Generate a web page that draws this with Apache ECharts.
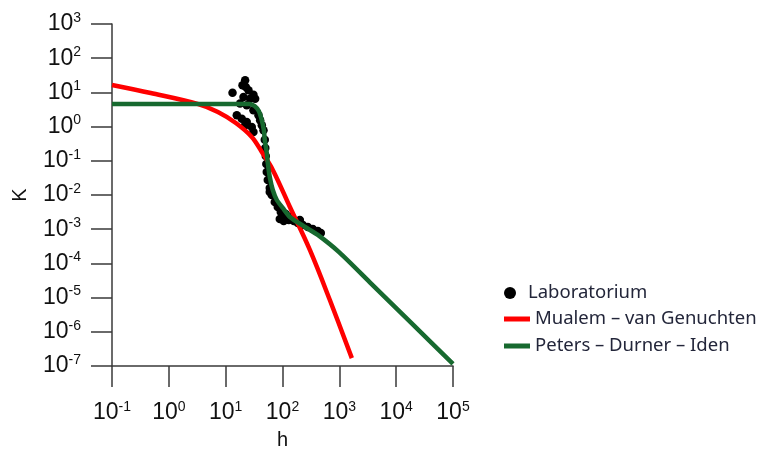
<!DOCTYPE html>
<html>
<head>
<meta charset="utf-8">
<script src="https://cdn.jsdelivr.net/npm/echarts@6/dist/echarts.min.js"></script>
<style>
  html, body { margin: 0; padding: 0; background: #fff; }
  #chart { width: 770px; height: 449px; }
</style>
</head>
<body>
<div id="chart"></div>
<script>
// Laboratorium — meetpunten [h, K]
const labPoints = [
  [22.0, 22.6], [19.8, 16.1], [22.6, 14.4], [13.2, 9.8], [25.2, 11.5], [30.8, 8.6],
  [20.6, 7.3], [26.9, 6.5], [33.0, 6.5], [17.9, 4.7], [23.5, 4.2], [30.8, 3.0],
  [15.7, 2.14], [19.2, 1.70], [23.5, 1.36], [22.0, 1.09], [28.8, 0.97], [30.8, 0.70],
  [37.8, 2.14], [40.4, 1.53], [43.3, 1.09], [46.3, 0.78],
  [48.8, 0.41], [49.8, 0.237], [50.8, 0.138], [51.9, 0.0805], [52.9, 0.047], [55.1, 0.0275],
  [59.7, 0.016], [59.7, 0.01225], [64.8, 0.010], [73.1, 0.00624], [82.6, 0.00446], [93.3, 0.00318],
  [89.6, 0.00199], [105, 0.00174], [114, 0.00278], [129, 0.00186], [146, 0.00228],
  [158, 0.00174], [186, 0.00152], [202, 0.00186], [228, 0.00133], [279, 0.00116],
  [341, 0.00101], [418, 0.00089], [472, 0.00077]
];

// Mualem – van Genuchten
const mvgCurve = [
  [0.1, 16.5], [0.48, 9.6], [3.2, 4.6], [7.3, 2.67], [15.1, 1.27], [28.8, 0.497],
  [43.3, 0.181], [67.5, 0.054], [135, 0.00446], [303, 2.47e-4], [681, 8.5e-6], [1660, 1.7e-7]
];

// Peters – Durner – Iden
const pdiCurve = [
  [0.1, 4.6], [26.5, 4.6], [32.3, 4.0], [38.3, 2.86], [43.1, 1.56], [46.9, 0.80],
  [48.8, 0.405], [52.9, 0.169], [55.1, 0.086], [59.7, 0.0336], [67.5, 0.014], [79.5, 0.00714],
  [101, 0.00417], [135, 0.00228], [250, 1.16e-3], [418, 6.8e-4], [1000, 2.1e-4],
  [3444, 2.8e-5], [20000, 1.59e-6], [1e5, 1.15e-7]
];

const xRange = [0.1, 1e5];
const yRange = [1e-7, 1e3];

const FONT = '"Liberation Sans", Arial, sans-serif';

const powLabel = (v) => '{b|10}{s|' + Math.round(Math.log10(v)) + '}';
const powRich = {
  b: { fontSize: 23, fontFamily: FONT, color: '#111', lineHeight: 26 },
  s: { fontSize: 14, fontFamily: FONT, color: '#111', lineHeight: 15, verticalAlign: 'top' }
};

const AXIS_LINE = { show: true, lineStyle: { color: '#3a3a3a', width: 1.5 } };
const AXIS_TICK = { show: true, inside: false, length: 21, lineStyle: { color: '#3a3a3a', width: 1.5 } };

const chart = echarts.init(document.getElementById('chart'), null, { renderer: 'canvas' });

chart.setOption({
  backgroundColor: '#fff',
  animation: false,
  grid: { left: 112, top: 24, width: 341, height: 342, outerBoundsMode: 'none', containLabel: false },
  xAxis: {
    type: 'log', logBase: 10, min: xRange[0], max: xRange[1], interval: 1,
    name: 'h', nameLocation: 'middle', nameGap: 64,
    nameTextStyle: { fontSize: 20, fontFamily: FONT, color: '#111' },
    axisLine: AXIS_LINE, axisTick: AXIS_TICK,
    axisLabel: { margin: 34, formatter: powLabel, rich: powRich },
    splitLine: { show: false }, minorTick: { show: false }
  },
  yAxis: {
    type: 'log', logBase: 10, min: yRange[0], max: yRange[1], interval: 1,
    name: 'K', nameLocation: 'middle', nameGap: 82,
    nameTextStyle: { fontSize: 20, fontFamily: FONT, color: '#111' },
    axisLine: AXIS_LINE, axisTick: AXIS_TICK,
    axisLabel: { margin: 31, formatter: powLabel, rich: powRich },
    splitLine: { show: false }, minorTick: { show: false }
  },
  legend: [
    {
      data: [{ name: 'Laboratorium', icon: 'circle' }],
      left: 499, top: 277, orient: 'vertical',
      itemWidth: 26, itemHeight: 12, itemGap: 8,
      textStyle: { fontSize: 18.5, fontFamily: '"Noto Sans", sans-serif', color: '#23263a', lineHeight: 22 }
    },
    {
      data: [
        { name: 'Mualem – van Genuchten', icon: 'rect' },
        { name: 'Peters – Durner – Iden', icon: 'rect' }
      ],
      left: 499, top: 303, orient: 'vertical',
      itemWidth: 26, itemHeight: 5, itemGap: 5,
      textStyle: { fontSize: 18.5, fontFamily: '"Noto Sans", sans-serif', color: '#23263a', lineHeight: 22 }
    }
  ],
  series: [
    {
      name: 'Laboratorium', type: 'scatter', data: labPoints,
      symbol: 'circle', symbolSize: 8.5, itemStyle: { color: '#000', opacity: 1 }, z: 1
    },
    {
      name: 'Mualem – van Genuchten', type: 'line', data: mvgCurve,
      showSymbol: false, smooth: 0.35, z: 2,
      lineStyle: { color: '#ff0000', width: 4.5 }, itemStyle: { color: '#ff0000' }
    },
    {
      name: 'Peters – Durner – Iden', type: 'line', data: pdiCurve,
      showSymbol: false, smooth: 0.25, z: 3,
      lineStyle: { color: '#17692f', width: 4.5 }, itemStyle: { color: '#17692f' }
    }
  ]
});
</script>
</body>
</html>
